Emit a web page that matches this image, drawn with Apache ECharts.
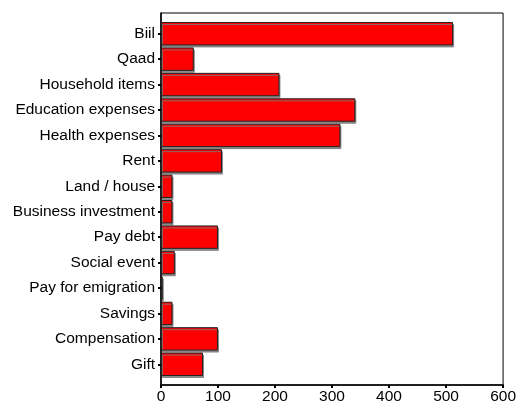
<!DOCTYPE html>
<html><head><meta charset="utf-8">
<script src="https://cdn.jsdelivr.net/npm/echarts@6/dist/echarts.min.js"></script>
<style>html,body{margin:0;padding:0;background:#fff}#c{width:519px;height:407px}</style>
</head><body><div id="c"></div>
<script>
var categories = ["Biil","Qaad","Household items","Education expenses","Health expenses","Rent","Land / house","Business investment","Pay debt","Social event","Pay for emigration","Savings","Compensation","Gift"];
var values = [508,57,206,338,312,106,20,20,99,24,3,20,99,73];
var xTicks = [0,100,200,300,400,500,600];

var chart = echarts.init(document.getElementById('c'));
var font = 'Liberation Sans, Arial, sans-serif';
chart.setOption({
  animation:false,
  backgroundColor:'#fff',
  grid:[
    {left:161, top:21, width:345, height:356, containLabel:false},
    {left:161, top:13, width:345, height:372, containLabel:false, show:true, borderColor:'#000', borderWidth:1, backgroundColor:'transparent'}
  ],
  xAxis:[
    {gridIndex:0, type:'value', min:0, max:600, show:false},
    {gridIndex:1, type:'value', min:xTicks[0], max:xTicks[xTicks.length-1], interval:100, position:'bottom',
     axisLine:{show:true, lineStyle:{color:'#000', width:1.5}},
     axisTick:{show:true, length:3, inside:false, lineStyle:{color:'#000', width:2}},
     axisLabel:{color:'#000', fontFamily:font, fontSize:15.5, margin:4},
     splitLine:{show:false}}
  ],
  yAxis:[
    {gridIndex:0, type:'category', data:categories, inverse:true, boundaryGap:true,
     axisLine:{show:false},
     axisTick:{show:true, alignWithLabel:true, length:3, lineStyle:{color:'#000', width:2}},
     axisLabel:{color:'#000', fontFamily:font, fontSize:15.5, margin:6}},
    {gridIndex:1, type:'value', min:0, max:1, position:'left',
     axisLine:{show:true, onZero:false, lineStyle:{color:'#000', width:1.5}},
     axisTick:{show:false}, axisLabel:{show:false}, splitLine:{show:false}}
  ],
  series:[{
    type:'bar', xAxisIndex:0, yAxisIndex:0, data:values, z:1,
    barCategoryGap:'8%',
    itemStyle:{color:'#ff0000', borderColor:'#222', borderWidth:1,
      shadowColor:'rgba(120,120,120,0.85)', shadowOffsetY:2, shadowOffsetX:1, shadowBlur:0}
  }]
});
</script></body></html>
